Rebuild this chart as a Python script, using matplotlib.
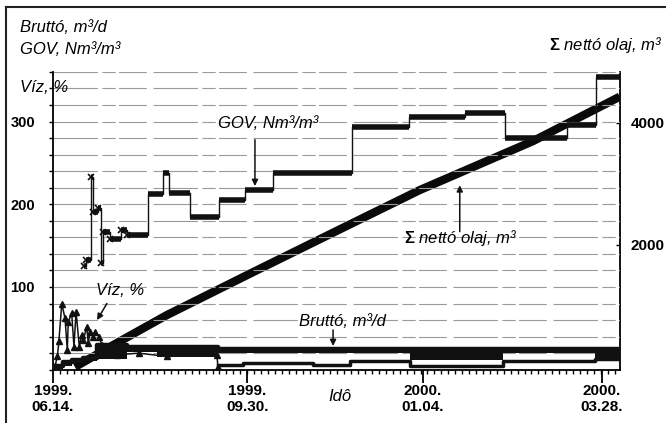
import matplotlib
matplotlib.use('Agg')
import matplotlib.pyplot as plt
from matplotlib.lines import Line2D
from matplotlib.ticker import MultipleLocator

SANS = ['Liberation Sans', 'DejaVu Sans']
plt.rcParams['mathtext.fontset'] = 'custom'
plt.rcParams['mathtext.bf'] = 'Liberation Sans:bold'
plt.rcParams['mathtext.rm'] = 'Liberation Sans'

# GOV, Nm3/m3 (left axis) - step values, x in days from 1999.06.14
gov_days = [16.2, 17.3, 19.8, 21.2, 23.8, 25.0, 26.4, 29.9, 35.5, 38.6, 50.0, 57.7,
            61.0, 72.0, 87.3, 100.7, 115.6, 156.7, 187.0, 216.0, 237.0, 270.0, 285.0, 297.5]
gov_vals = [125, 133, 233, 191, 195, 129, 167, 158, 169, 163, 213, 238,
            214, 185, 205, 217, 238, 294, 306, 310, 280, 296, 354, 354]

# cumulative net oil, m3 (right axis)
netto_days = [11.5, 35, 59.7, 103.4, 146.9, 192.5, 251.8, 297.5]
netto_vals = [0, 420, 850, 1530, 2200, 2900, 3700, 4430]

# water cut, % (left axis)
viz_days = [1.0, 2.3, 3.1, 4.6, 6.3, 7.5, 8.0, 9.8, 11.0, 12.1, 13.8, 15.1, 15.9,
            17.7, 18.5, 19.4, 20.8, 22.0, 24.3, 25.6, 27.3, 33.6, 45, 60, 86.0, 86.6]
viz_vals = [4, 16, 35, 80, 62, 24, 58, 68, 28, 70, 28, 42, 36,
            52, 32, 46, 40, 46, 40, 30, 24, 18, 20, 16, 18, 3]
viz_low_days = [86.6, 99.7, 136.4, 155.8, 187.3, 236.1, 284.4, 297.5]
viz_low_vals = [6, 8, 5.5, 11, 5, 10, 13, 13]

# gross rate, m3/d (left axis) - daily min / max band
brutto_days = [0, 5, 10, 16, 23.1, 38.8, 54.6, 86.6, 187.3, 236.1, 284.4, 297.5]
brutto_lo = [1, 5, 8, 10, 13, 21, 15, 20, 12, 20, 13, 13]
brutto_hi = [4, 9, 12, 14, 30, 27, 27, 25, 25, 25, 25, 25]

date_pos = [0, 102, 194, 288]
date_labels = ['1999.\n06.14.', '1999.\n09.30.', '2000.\n01.04.', '2000.\n03.28.']

fig = plt.figure(figsize=(6.66, 4.23), dpi=100)
ax = fig.add_axes([0.0796, 0.126, 0.851, 0.704])
ax2 = ax.twinx()
ax.set_zorder(2)
ax.patch.set_visible(False)

ax.set_xlim(0, 297.5)
ax.set_ylim(0, 360)
ax2.set_ylim(-44, 4836)

for v in range(20, 361, 20):
    ax.axhline(v, color='#9a9a9a', lw=0.8, ls=(0, (40, 4, 12, 3, 25, 6)), zorder=0)

# bruttó band and víz
ax.fill_between(brutto_days, brutto_lo, brutto_hi, step='post', color='#111111', lw=0, zorder=3)
ax.step(brutto_days, brutto_hi, where='post', color='#111111', lw=3.2, zorder=3)
ax.step(viz_low_days, viz_low_vals, where='post', color='#111111', lw=2.5, zorder=3)
ax.plot(viz_days, viz_vals, color='#111111', lw=1.1, marker='^', ms=4.5, zorder=4)

# GOV
ax.step(gov_days, gov_vals, where='post', color='#111111', lw=1.0, zorder=4)
ax.hlines(gov_vals[:-1], gov_days[:-1], gov_days[1:], color='#111111', lw=4, zorder=4)
ax.plot(gov_days[:10], gov_vals[:10], ls='none', marker='x', ms=4, mew=1.2, color='#111111', zorder=5)

# cumulative oil
ax2.plot(netto_days, netto_vals, color='#0a0a0a', lw=6, solid_capstyle='butt', zorder=3)

# axes styling
ax.spines['top'].set_visible(False)
ax2.spines['top'].set_visible(False)
ax.spines['right'].set_visible(False)
ax2.spines['left'].set_visible(False)
ax2.spines['bottom'].set_visible(False)
for s in ['left', 'bottom']:
    ax.spines[s].set_linewidth(1.3)
ax2.spines['right'].set_linewidth(1.3)

ax.set_xticks(date_pos)
ax.set_xticklabels(date_labels, fontsize=11, fontweight='bold', family=SANS, linespacing=1.2)
ax.xaxis.set_minor_locator(MultipleLocator(3.64))
ax.tick_params(axis='x', which='major', length=9, width=1.3, direction='out', pad=1)
ax.tick_params(axis='x', which='minor', length=3, width=1.0, direction='out')

ax.set_yticks(range(0, 361, 20))
ax.set_yticklabels(['100' if v == 100 else '200' if v == 200 else '300' if v == 300 else ''
                    for v in range(0, 361, 20)], fontsize=10.5, fontweight='bold', family=SANS)
ax.tick_params(axis='y', length=3, width=1.0, direction='out', pad=10)

ax2.set_yticks([2000, 4000])
ax2.set_yticklabels(['2000', '4000'], fontsize=11, fontweight='bold', family=SANS)
ax2.tick_params(axis='y', length=3, width=1.0, direction='in', pad=8)

# texts
lab = dict(fontsize=12, style='italic', family=SANS)
sigma = r'$\mathbf{\Sigma}$' + ' nettó olaj, m³'
fig.text(0.030, 0.934, 'Bruttó, m³/d', va='center', **lab)
fig.text(0.030, 0.882, 'GOV, Nm³/m³', va='center', **lab)
fig.text(0.030, 0.792, 'Víz, %', va='center', **lab)
fig.text(0.994, 0.894, sigma, va='center', ha='right', **lab)

arrow = dict(arrowstyle='-|>', color='#111111', lw=1.1, mutation_scale=9, shrinkA=0, shrinkB=0)
ax.annotate('', xy=(106, 222), xytext=(106, 278), arrowprops=arrow, zorder=6)
ax.text(112.8, 298, 'GOV, Nm³/m³', ha='center', va='center', **lab)
ax.annotate('', xy=(213.5, 223), xytext=(213.5, 167), arrowprops=arrow, zorder=6)
ax.text(214, 159, sigma, ha='center', va='center', **lab)
ax.annotate('', xy=(23.1, 60), xytext=(28.3, 80), arrowprops=arrow, zorder=6)
ax.text(35, 96, 'Víz, %', ha='center', va='center', **lab)
ax.annotate('', xy=(147, 28.6), xytext=(147, 48), arrowprops=arrow, zorder=6)
ax.text(152, 57.7, 'Bruttó, m³/d', ha='center', va='center', **lab)
ax.text(150.6, -33, 'Idô', ha='center', va='center', clip_on=False, **lab)

# scan frame (top and left edges)
fig.add_artist(Line2D([0.009, 0.009], [0.0, 0.983], color='#222222', lw=1.5, transform=fig.transFigure))
fig.add_artist(Line2D([0.009, 1.0], [0.983, 0.983], color='#222222', lw=1.5, transform=fig.transFigure))

fig.savefig('out.png', dpi=100)
